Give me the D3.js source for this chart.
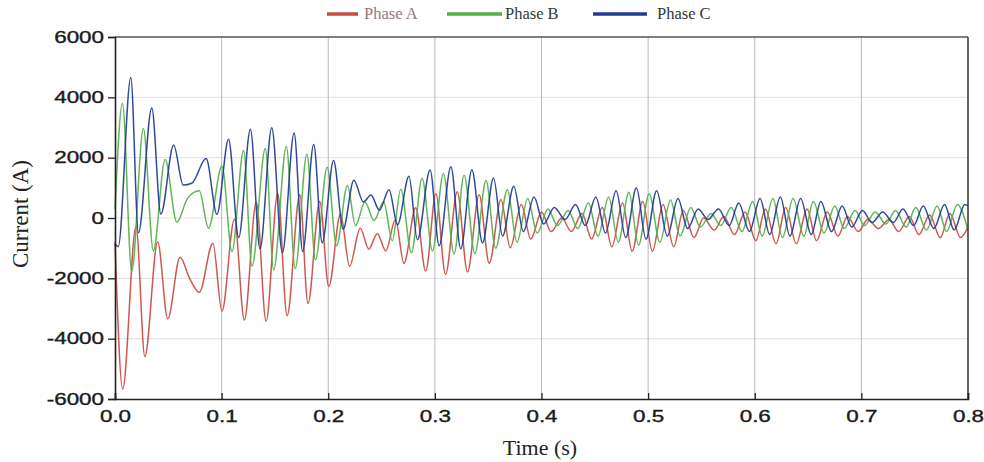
<!DOCTYPE html>
<html><head><meta charset="utf-8">
<script src="https://cdn.jsdelivr.net/npm/d3@7/dist/d3.min.js"></script>
<style>body{margin:0;background:#fff}</style>
</head><body>
<svg id="chart" width="984" height="462"></svg>
<script>
// ---- data (local extrema [time s, current A]) ----
const seriesNames = ["Phase A", "Phase B", "Phase C"];
const xTickValues = [0, 0.1, 0.2, 0.3, 0.4, 0.5, 0.6, 0.7, 0.8];
const yTickValues = [-6000, -4000, -2000, 0, 2000, 4000, 6000];

const phaseA = [[0,-800],[0.0072,-5670],[0.0197,-270],[0.028,-4590],[0.040,-790],[0.0495,-3340],[0.061,-1300],[0.070,-2000],[0.079,-2460],[0.0918,-840],[0.1003,-3090],[0.112,-40],[0.1213,-3380],[0.1325,520],[0.1417,-3420],[0.1526,810],[0.1614,-3240],[0.1733,770],[0.181,-2830],[0.192,550],[0.2005,-2270],[0.2115,130],[0.220,-1600],[0.230,-340],[0.238,-1030],[0.246,-520],[0.254,-1090],[0.263,-50],[0.271,-1500],[0.282,340],[0.2914,-1760],[0.301,800],[0.310,-1870],[0.321,870],[0.3306,-1790],[0.3415,770],[0.351,-1500],[0.362,610],[0.3707,-990],
[0.381,450],[0.390,-700],[0.400,200],[0.409,-450],[0.419,0],[0.428,-450],[0.438,150],[0.447,-700],[0.457,350],[0.466,-950],[0.476,500],[0.485,-1100],[0.495,550],[0.504,-1100],[0.514,450],[0.524,-950],[0.533,250],[0.543,-650],[0.552,0],[0.562,-400],[0.571,50],[0.581,-550],[0.591,200],[0.601,-750],[0.610,300],[0.620,-850],[0.629,350],[0.639,-850],[0.649,300],[0.658,-750],[0.668,200],[0.678,-600],[0.687,50],[0.697,-450],[0.706,-50],[0.716,-350],[0.726,-50],[0.735,-450],[0.745,50],[0.754,-550],[0.764,100],[0.774,-650],[0.783,150],[0.793,-650],[0.800,-300]];

const phaseB = [[0,300],[0.007,3800],[0.0157,-1770],[0.0266,2970],[0.036,-1090],[0.047,1940],[0.058,-140],[0.068,650],[0.079,900],[0.0877,-340],[0.1003,1720],[0.1097,-1110],[0.1206,2240],[0.1285,-1600],[0.141,2300],[0.1488,-1720],[0.1607,2370],[0.169,-1680],[0.180,2110],[0.188,-1390],[0.199,1680],[0.2078,-920],[0.218,1080],[0.2256,-250],[0.2344,530],[0.243,-80],[0.252,540],[0.260,-750],[0.268,950],[0.278,-1150],[0.288,1320],[0.2977,-1090],[0.308,1470],[0.318,-1190],[0.3274,1420],[0.3375,-1180],[0.348,1240],[0.357,-1000],[0.368,940],
[0.377,-800],[0.387,650],[0.396,-500],[0.406,300],[0.415,-250],[0.425,250],[0.434,-350],[0.444,500],[0.453,-600],[0.463,700],[0.472,-800],[0.482,850],[0.491,-900],[0.501,800],[0.511,-800],[0.521,600],[0.530,-600],[0.540,350],[0.549,-300],[0.559,150],[0.568,-250],[0.578,350],[0.588,-450],[0.598,550],[0.607,-600],[0.617,650],[0.626,-650],[0.636,650],[0.646,-600],[0.655,550],[0.665,-500],[0.675,400],[0.684,-350],[0.694,250],[0.703,-250],[0.713,200],[0.723,-200],[0.732,250],[0.742,-300],[0.751,350],[0.761,-400],[0.771,400],[0.780,-450],[0.790,450],[0.800,-400]];

const phaseC = [[0,-850],[0.003,-950],[0.0148,4660],[0.022,-490],[0.0345,3650],[0.043,130],[0.055,2420],[0.064,1090],[0.072,1150],[0.0855,1970],[0.0956,120],[0.1065,2610],[0.116,-650],[0.127,2940],[0.136,-1020],[0.147,2990],[0.157,-1150],[0.168,2820],[0.176,-1110],[0.1864,2440],[0.1943,-820],[0.205,1910],[0.214,-370],[0.224,1250],[0.233,530],[0.240,760],[0.248,260],[0.257,940],[0.265,-220],[0.2757,1380],[0.2836,-720],[0.2955,1590],[0.304,-920],[0.315,1700],[0.3243,-1020],[0.3347,1600],[0.3447,-830],[0.355,1330],[0.3635,-600],
[0.374,1050],[0.383,-450],[0.393,700],[0.402,-200],[0.412,350],[0.422,-50],[0.432,450],[0.441,-250],[0.451,700],[0.460,-500],[0.470,900],[0.479,-650],[0.489,1000],[0.498,-700],[0.508,900],[0.518,-600],[0.528,650],[0.537,-350],[0.547,300],[0.556,-50],[0.566,300],[0.576,-250],[0.585,500],[0.595,-450],[0.605,650],[0.614,-550],[0.624,700],[0.633,-600],[0.643,650],[0.653,-550],[0.662,550],[0.672,-450],[0.682,400],[0.691,-300],[0.701,250],[0.710,-150],[0.720,200],[0.730,-150],[0.739,300],[0.749,-250],[0.758,400],[0.768,-350],[0.778,450],[0.787,-400],[0.797,450],[0.800,400]];

const seriesData = [phaseA, phaseB, phaseC];
const seriesColors = ["#c84a42", "#52b04a", "#1f3a93"];
const legendTextColors = ["#8e7c7c", "#333a33", "#333338"];

// ---- layout ----
const svg = d3.select("#chart");
const X0 = 115, X1 = 968, Y0 = 37, Y1 = 399;
const x = d3.scaleLinear().domain([0, 0.8]).range([X0, X1]);
const y = d3.scaleLinear().domain([-6000, 6000]).range([Y1, Y0]);

function stretch(sel, k) {
  sel.each(function () {
    const w = this.getComputedTextLength();
    d3.select(this).attr("textLength", w * k).attr("lengthAdjust", "spacingAndGlyphs");
  });
}

// grid
svg.append("g").selectAll("line").data(yTickValues.filter(d => d > -6000 && d < 6000)).join("line")
  .attr("x1", X0).attr("x2", X1).attr("y1", d => y(d)).attr("y2", d => y(d))
  .attr("stroke", "#e2e5ea").attr("stroke-width", 1.2);
svg.append("g").selectAll("line").data(xTickValues.filter(d => d > 0 && d < 0.8)).join("line")
  .attr("x1", d => x(d)).attr("x2", d => x(d)).attr("y1", Y0).attr("y2", Y1)
  .attr("stroke", "#b9b9b9").attr("stroke-width", 1);

// series
const line = d3.line().x(d => x(d[0])).y(d => y(d[1])).curve(d3.curveMonotoneX);
const plot = svg.append("g");
seriesData.forEach((s, i) => {
  plot.append("path").datum(s).attr("d", line)
    .attr("fill", "none").attr("stroke", seriesColors[i]).attr("stroke-width", 1.5)
    .attr("stroke-linejoin", "round").attr("opacity", 0.92);
});

// frame
svg.append("line").attr("x1", X0).attr("x2", X1).attr("y1", Y0).attr("y2", Y0).attr("stroke", "#555").attr("stroke-width", 1.5);
svg.append("line").attr("x1", X1).attr("x2", X1).attr("y1", Y0).attr("y2", Y1).attr("stroke", "#333").attr("stroke-width", 1.5);

// axes
const yAxis = d3.axisLeft(y).tickValues(yTickValues).tickSize(7).tickPadding(4).tickFormat(d => String(d));
const gy = svg.append("g").attr("transform", `translate(${X0},0)`).call(yAxis);
const xAxis = d3.axisBottom(x).tickValues(xTickValues).tickSize(-6).tickPadding(12).tickFormat(d3.format(".1f"));
const gx = svg.append("g").attr("transform", `translate(0,${Y1})`).call(xAxis);
[gx, gy].forEach(g => {
  g.select(".domain").attr("stroke", "#222").attr("stroke-width", 1.6);
  g.selectAll(".tick line").attr("stroke", "#222").attr("stroke-width", 1.3);
  g.selectAll("text").attr("font-family", "'Liberation Sans', Arial, sans-serif")
    .attr("font-size", 16).attr("fill", "#1a1a1a").attr("stroke", "#1a1a1a").attr("stroke-width", 0.35);
});
gy.selectAll("text").call(stretch, 1.4);
gx.selectAll("text").call(stretch, 1.4);

// axis titles
svg.append("text").attr("x", 540).attr("y", 455).attr("text-anchor", "middle")
  .attr("font-family", "'Liberation Serif', 'Times New Roman', serif").attr("font-size", 22).attr("fill", "#222")
  .text("Time (s)");
svg.append("text").attr("transform", "translate(28,214) rotate(-90)").attr("text-anchor", "middle")
  .attr("font-family", "'Liberation Serif', 'Times New Roman', serif").attr("font-size", 23).attr("fill", "#222")
  .text("Current (A)");

// legend
const legendLines = [[327, 358], [447, 502], [593, 647]];
const legendTextX = [364, 505, 657];
seriesNames.forEach((n, i) => {
  svg.append("line").attr("x1", legendLines[i][0]).attr("x2", legendLines[i][1]).attr("y1", 14).attr("y2", 14)
    .attr("stroke", seriesColors[i]).attr("stroke-width", 3.5);
  svg.append("text").attr("x", legendTextX[i]).attr("y", 19)
    .attr("font-family", "'Liberation Serif', 'Times New Roman', serif").attr("font-size", 16.5)
    .attr("fill", legendTextColors[i]).text(n);
});
</script>
</body></html>
